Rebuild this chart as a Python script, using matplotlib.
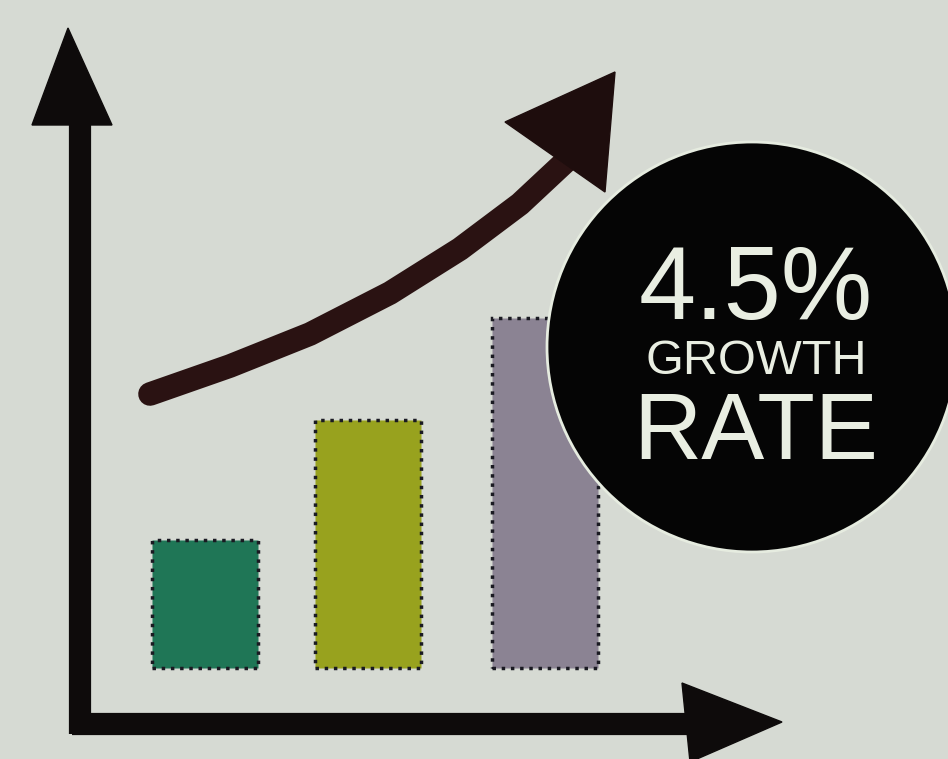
import numpy as np
import matplotlib.pyplot as plt
from matplotlib.patches import Circle, Polygon

# bar chart data (heights above baseline, in picture units)
categories = ["A", "B", "C"]
bar_values = [128, 248, 350]
bar_colors = ["#1f7656", "#98a21e", "#8b8393"]

# growth curve points (x, y) in picture units, y up
curve_x = [150, 230, 310, 390, 460, 520, 565]
curve_y = [365, 393, 425, 466, 510, 555, 597]

growth_label = "4.5%"

W, H = 948, 759
fig = plt.figure(figsize=(9.48, 7.59), dpi=100)
fig.patch.set_facecolor("#d6dad3")
ax = fig.add_axes([0, 0, 1, 1])
ax.set_xlim(0, W)
ax.set_ylim(0, H)
ax.axis("off")

dark = "#0e0b0b"
base = 91
xpos = [205, 368, 545]
ax.bar(xpos, bar_values, width=106, bottom=base, color=bar_colors,
       edgecolor="#1a1a22", linewidth=2.5, linestyle=":", zorder=2)

# axes arrows
ax.plot([80, 80], [25, 640], color=dark, lw=16, solid_capstyle="butt", zorder=3)
ax.plot([72, 690], [35, 35], color=dark, lw=16, solid_capstyle="butt", zorder=3)
ax.add_patch(Polygon([[68, 731], [32, 634], [112, 634]], closed=True, color=dark, zorder=3))
ax.add_patch(Polygon([[782, 37], [682, 76], [690, -3]], closed=True, color=dark, zorder=3))

# growth circle
ax.add_patch(Circle((752, 412), 205, facecolor="#050505", edgecolor="#e6ece0",
                    lw=2, zorder=4))

# curved arrow
ax.plot(curve_x, curve_y, color="#2a1212", lw=17, solid_capstyle="round", zorder=5)
ax.add_patch(Polygon([[615, 687], [505, 637], [605, 567]], closed=True,
                     color="#1e0d0d", zorder=5))

txt = "#e9eee2"
fam = ["Liberation Sans", "DejaVu Sans"]
ax.text(756, 440, growth_label, color=txt, fontsize=74, ha="center", va="baseline",
        family=fam, weight="medium", zorder=6)
ax.text(756, 385, "GROWTH", color=txt, fontsize=35, ha="center", va="baseline",
        family=fam, zorder=6)
ax.text(756, 300, "RATE", color=txt, fontsize=68, ha="center", va="baseline",
        family=fam, zorder=6)

fig.savefig("out.png", dpi=100, facecolor=fig.get_facecolor())
